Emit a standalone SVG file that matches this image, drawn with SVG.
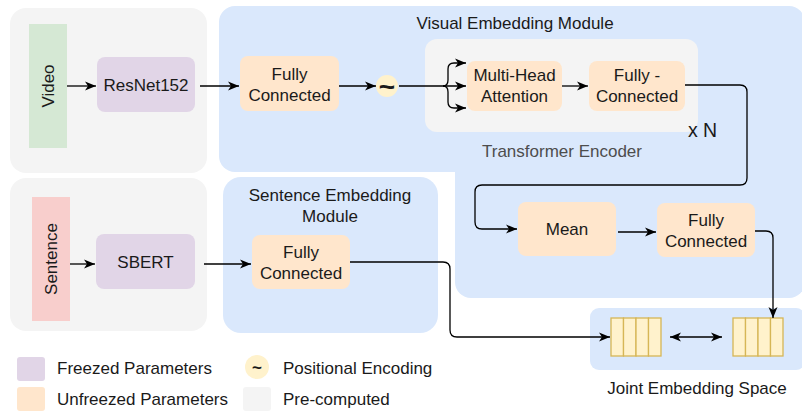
<svg xmlns="http://www.w3.org/2000/svg" width="802" height="412" viewBox="0 0 802 412">
<defs>
<marker id="arr" markerUnits="userSpaceOnUse" markerWidth="12" markerHeight="10" viewBox="0 0 12 10" refX="11" refY="5" orient="auto-start-reverse">
<path d="M0,0.5 L11,5 L0,9.5 L3,5 Z" fill="#000"/>
</marker>
</defs>
<style>
text{font-family:"Liberation Sans",Arial,sans-serif;font-size:17px;fill:#1a1a1a}
.c{text-anchor:middle}
.gray{fill:#f4f4f4}
.blue{fill:#dae8fc}
.fz{fill:#e1d5e7}
.uf{fill:#ffe6cc}
.pe{fill:#fff2cc}
.ln{fill:none;stroke:#000;stroke-width:1.3}
.cell{fill:#fff2cc;stroke:#d6b656;stroke-width:1.3}
</style>
<!-- background groups -->
<g id="precomputed-video"><rect x="10" y="8" width="197" height="165" rx="16" class="gray"/></g>
<g id="precomputed-sentence"><rect x="10" y="178" width="197" height="153" rx="16" class="gray"/></g>
<g id="visual-module">
<rect x="455" y="150" width="350" height="148" rx="16" class="blue"/>
<rect x="219" y="6" width="586" height="166" rx="16" class="blue"/>
<text x="515" y="29" class="c">Visual Embedding Module</text>
</g>
<g id="transformer-encoder">
<rect x="425" y="39" width="273" height="93" rx="12" class="gray"/>
<text x="562" y="157" class="c" style="fill:#4d4d4d">Transformer Encoder</text>
<text x="702.5" y="137" class="c" style="font-size:19.5px">x N</text>
</g>
<g id="sentence-module">
<rect x="223" y="177" width="215" height="156" rx="18" class="blue"/>
<text x="330" y="201" class="c">Sentence Embedding</text>
<text x="330" y="222" class="c">Module</text>
</g>
<g id="joint-space">
<rect x="590" y="308" width="215" height="62" rx="9" class="blue"/>
<text x="697" y="394" class="c">Joint Embedding Space</text>
</g>
<!-- nodes -->
<g id="video"><rect x="29" y="24" width="38" height="124" fill="#d5e8d4"/><text transform="translate(54,86) rotate(-90)" class="c">Video</text></g>
<g id="resnet"><rect x="97" y="57" width="98" height="55" rx="8" class="fz"/><text x="146" y="91" class="c">ResNet152</text></g>
<g id="fc-video"><rect x="240" y="56" width="99" height="55" rx="8" class="uf"/><text x="289.5" y="80" class="c">Fully</text><text x="289.5" y="101" class="c">Connected</text></g>
<g id="pos-enc"><circle cx="387" cy="86" r="11" class="pe"/><text x="387" y="95.5" class="c" style="font-weight:bold;font-size:28px">~</text></g>
<g id="mha"><rect x="467" y="61" width="95" height="50" rx="8" class="uf"/><text x="514.5" y="81" class="c">Multi-Head</text><text x="514.5" y="102" class="c">Attention</text></g>
<g id="fc-enc"><rect x="589" y="61" width="96" height="50" rx="8" class="uf"/><text x="637" y="81" class="c">Fully -</text><text x="637" y="102" class="c">Connected</text></g>
<g id="mean"><rect x="518" y="202" width="98" height="54" rx="8" class="uf"/><text x="567" y="235" class="c">Mean</text></g>
<g id="fc-out"><rect x="657" y="203" width="98" height="54" rx="8" class="uf"/><text x="706" y="226" class="c">Fully</text><text x="706" y="247" class="c">Connected</text></g>
<g id="sentence"><rect x="32" y="197" width="38" height="124" fill="#f8cecc"/><text transform="translate(57,259) rotate(-90)" class="c">Sentence</text></g>
<g id="sbert"><rect x="96" y="234" width="99" height="55" rx="8" class="fz"/><text x="145.5" y="268" class="c">SBERT</text></g>
<g id="fc-sent"><rect x="252" y="235" width="98" height="54" rx="8" class="uf"/><text x="301" y="258" class="c">Fully</text><text x="301" y="279" class="c">Connected</text></g>
<g id="embed-text">
<rect x="611" y="318" width="12.5" height="38" class="cell"/><rect x="623.5" y="318" width="12.5" height="38" class="cell"/><rect x="636" y="318" width="12.5" height="38" class="cell"/><rect x="648.5" y="318" width="12.5" height="38" class="cell"/>
</g>
<g id="embed-video">
<rect x="733" y="318" width="12.5" height="38" class="cell"/><rect x="745.5" y="318" width="12.5" height="38" class="cell"/><rect x="758" y="318" width="12.5" height="38" class="cell"/><rect x="770.5" y="318" width="12.5" height="38" class="cell"/>
</g>
<!-- legend -->
<g id="legend">
<rect x="17" y="357" width="28" height="24" rx="3" class="fz"/><text x="57" y="374">Freezed Parameters</text>
<rect x="17" y="387" width="28" height="24" rx="3" class="uf"/><text x="57" y="405">Unfreezed Parameters</text>
<circle cx="257" cy="367" r="12" class="pe"/><text x="257" y="373" class="c" style="font-weight:bold;font-size:17px">~</text><text x="283" y="374">Positional Encoding</text>
<rect x="243" y="387" width="28" height="24" rx="3" class="gray"/><text x="283" y="405">Pre-computed</text>
</g>
<!-- connectors -->
<g id="connectors">
<path class="ln" d="M67,86 H96" marker-end="url(#arr)"/>
<path class="ln" d="M200,86 H239" marker-end="url(#arr)"/>
<path class="ln" d="M339,86 H376" marker-end="url(#arr)"/>
<path class="ln" d="M399,86 H466" marker-end="url(#arr)"/>
<path class="ln" d="M443,86 Q448,86 448,80 V69 Q448,63 454,63 H466" marker-end="url(#arr)"/>
<path class="ln" d="M443,86 Q448,86 448,92 V102 Q448,108 454,108 H466" marker-end="url(#arr)"/>
<path class="ln" d="M562,86 H588" marker-end="url(#arr)"/>
<path class="ln" d="M685,85 H740 Q747,85 747,92 V178 Q747,185 740,185 H482 Q475,185 475,192 V222 Q475,229 482,229 H517" marker-end="url(#arr)"/>
<path class="ln" d="M618,232 H656" marker-end="url(#arr)"/>
<path class="ln" d="M755,231 H766 Q773,231 773,238 V318" marker-end="url(#arr)"/>
<path class="ln" d="M70,264 H95" marker-end="url(#arr)"/>
<path class="ln" d="M204,264 H251" marker-end="url(#arr)"/>
<path class="ln" d="M350,262 H443 Q450,262 450,269 V330 Q450,337 457,337 H610" marker-end="url(#arr)"/>
<path class="ln" d="M670,337 H722" marker-start="url(#arr)" marker-end="url(#arr)"/>
</g>
</svg>
